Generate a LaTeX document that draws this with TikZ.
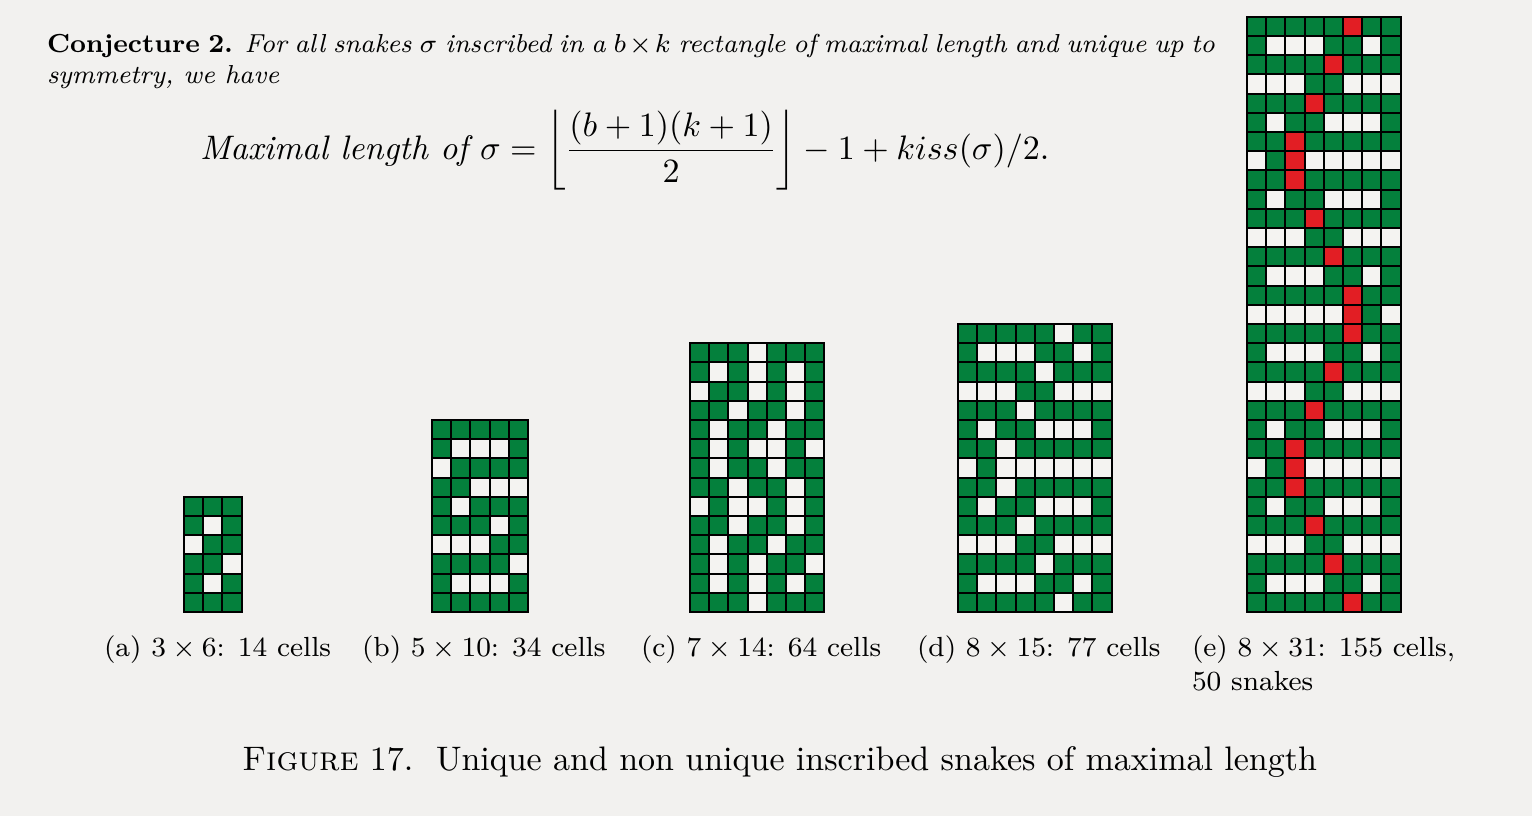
\RequirePackage{fix-cm}
\documentclass[tikz,border=0pt]{standalone}
\usepackage{amsmath}
\definecolor{bg}{RGB}{242,241,239}
\definecolor{snG}{RGB}{4,128,60}
\definecolor{snW}{RGB}{244,243,241}
\definecolor{snR}{RGB}{226,30,36}
\tikzset{
  cellbox/.style={draw=black, line width=0.6pt},
  txt/.style={anchor=base west, inner sep=0pt, outer sep=0pt, text=black},
  parfont/.style={font=\fontsize{7.8}{9.4}\selectfont},
  labfont/.style={font=\fontsize{8.3}{10}\selectfont},
}
\newcommand\drawsnakegrid[3]{%
  \foreach \row [count=\r] in {#3} {
    \foreach \c [count=\i] in \row {
      \filldraw[cellbox, fill=sn\c] ({#1+(\i-1)*19.2},{#2+(\r-1)*19.2}) rectangle ++(19.2,19.2);
    }
  }
}
\begin{document}
\begin{tikzpicture}[x=0.3pt,y=-0.3pt]
\useasboundingbox[fill=bg] (0,0) rectangle (1532,816);

% text
\node[txt,parfont] (conj1) at (47,52) {\makebox[350.4pt][s]{\textbf{Conjecture 2.} \textit{For all snakes $\sigma$ inscribed in a $b\times k$ rectangle of maximal length and unique up to}}};
\node[txt,parfont] (conj2) at (47,83) {\textit{symmetry, we have}};
\node[txt,font=\fontsize{10.2}{12.2}\selectfont] (formula) at (200,159) {$\displaystyle \textit{Maximal length of }\sigma=\left\lfloor\frac{(b+1)(k+1)}{2}\right\rfloor-1+kiss(\sigma)/2.$};

% grids
\drawsnakegrid{184}{496.8}{{G,G,G},{G,W,G},{W,G,G},{G,G,W},{G,W,G},{G,G,G}}
\drawsnakegrid{432}{420}{{G,G,G,G,G},{G,W,W,W,G},{W,G,G,G,G},{G,G,W,W,W},{G,W,G,G,G},{G,G,G,W,G},{W,W,W,G,G},{G,G,G,G,W},{G,W,W,W,G},{G,G,G,G,G}}
\drawsnakegrid{690}{343.2}{{G,G,G,W,G,G,G},{G,W,G,W,G,W,G},{W,G,G,W,G,W,G},{G,G,W,G,G,W,G},{G,W,G,G,W,G,G},{G,W,G,W,W,G,W},{G,W,G,G,W,G,G},{G,G,W,G,G,W,G},{W,G,W,W,G,W,G},{G,G,W,G,G,W,G},{G,W,G,G,W,G,G},{G,W,G,W,G,G,W},{G,W,G,W,G,W,G},{G,G,G,W,G,G,G}}
\drawsnakegrid{958}{324}{{G,G,G,G,G,W,G,G},{G,W,W,W,G,G,W,G},{G,G,G,G,W,G,G,G},{W,W,W,G,G,W,W,W},{G,G,G,W,G,G,G,G},{G,W,G,G,W,W,W,G},{G,G,W,G,G,G,G,G},{W,G,W,W,W,W,W,W},{G,G,W,G,G,G,G,G},{G,W,G,G,W,W,W,G},{G,G,G,W,G,G,G,G},{W,W,W,G,G,W,W,W},{G,G,G,G,W,G,G,G},{G,W,W,W,G,G,W,G},{G,G,G,G,G,W,G,G}}
\drawsnakegrid{1247}{16.8}{{G,G,G,G,G,R,G,G},{G,W,W,W,G,G,W,G},{G,G,G,G,R,G,G,G},{W,W,W,G,G,W,W,W},{G,G,G,R,G,G,G,G},{G,W,G,G,W,W,W,G},{G,G,R,G,G,G,G,G},{W,G,R,W,W,W,W,W},{G,G,R,G,G,G,G,G},{G,W,G,G,W,W,W,G},{G,G,G,R,G,G,G,G},{W,W,W,G,G,W,W,W},{G,G,G,G,R,G,G,G},{G,W,W,W,G,G,W,G},{G,G,G,G,G,R,G,G},{W,W,W,W,W,R,G,W},{G,G,G,G,G,R,G,G},{G,W,W,W,G,G,W,G},{G,G,G,G,R,G,G,G},{W,W,W,G,G,W,W,W},{G,G,G,R,G,G,G,G},{G,W,G,G,W,W,W,G},{G,G,R,G,G,G,G,G},{W,G,R,W,W,W,W,W},{G,G,R,G,G,G,G,G},{G,W,G,G,W,W,W,G},{G,G,G,R,G,G,G,G},{W,W,W,G,G,W,W,W},{G,G,G,G,R,G,G,G},{G,W,W,W,G,G,W,G},{G,G,G,G,G,R,G,G}}

% labels
\node[txt,labfont] (la) at (104,656.7) {(a) $3\times6$: 14 cells};
\node[txt,labfont] (lb) at (362,656.7) {(b) $5\times10$: 34 cells};
\node[txt,labfont] (lc) at (641,656.7) {(c) $7\times14$: 64 cells};
\node[txt,labfont] (ld) at (917,656.7) {(d) $8\times15$: 77 cells};
\node[txt,labfont] (le) at (1192,656.7) {(e) $8\times31$: 155 cells,};
\node[txt,labfont] (le2) at (1192,690) {50 snakes};

% caption
\node[txt,font=\fontsize{10.2}{12.2}\selectfont] (cap) at (242,770) {\textsc{Figure} 17.\ \ Unique and non unique inscribed snakes of maximal length};
\end{tikzpicture}
\end{document}
